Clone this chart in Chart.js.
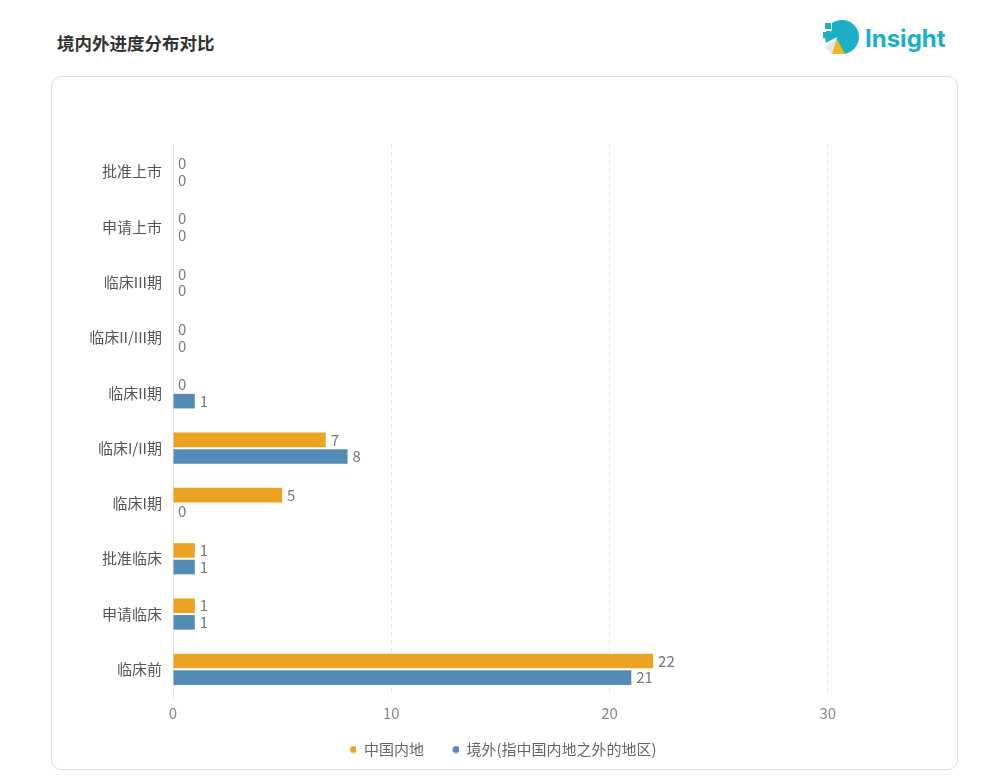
<!DOCTYPE html>
<html>
<head>
<meta charset="utf-8">
<script src="https://cdn.jsdelivr.net/npm/chart.js@4.4.0/dist/chart.umd.min.js"></script>
<style>
  html, body { margin: 0; padding: 0; background: #fff; }
  body { width: 1008px; height: 783px; position: relative; overflow: hidden;
         font-family: "Noto Sans CJK SC", "Noto Sans", sans-serif; }
  #title { position: absolute; left: 57px; top: 30px; font-size: 17.5px; font-weight: bold; color: #333; }
  #logo { position: absolute; left: 820px; top: 17px; }
  #card { position: absolute; left: 51px; top: 76px; width: 905px; height: 692px;
          border: 1px solid #dedede; border-radius: 10px; }
  #wrap { position: absolute; left: 0; top: 0; width: 905px; height: 692px; }
</style>
</head>
<body>
<div id="title">境内外进度分布对比</div>
<svg id="logo" width="135" height="42" viewBox="0 0 135 42">
  <circle cx="22" cy="20" r="17" fill="#1cb0c8"/>
  <rect x="3" y="3" width="9" height="11" fill="#fff"/>
  <rect x="5" y="6" width="6" height="6" fill="#1cb0c8"/>
  <rect x="3" y="15" width="7" height="6" fill="#1cb0c8"/>
  <path d="M2 28 L17 20 L12 38 L2 38 Z" fill="#fff"/>
  <path d="M5 30 L17 22 L12 37 Z" fill="#e4e4e4"/>
  <path d="M17 22 L25 37 L12 37 Z" fill="#f2b71f"/>
  <text x="45" y="30" font-family="Inter, 'Open Sans', sans-serif" font-weight="bold" font-size="24" fill="#1cb0c8">Insight</text>
</svg>
<div id="card"><div id="wrap"><canvas id="chart"></canvas></div></div>
<script>
var categories = ['批准上市', '申请上市', '临床III期', '临床II/III期', '临床II期', '临床I/II期', '临床I期', '批准临床', '申请临床', '临床前'];
var mainlandValues = [0, 0, 0, 0, 0, 7, 5, 1, 1, 22];
var overseasValues = [0, 0, 0, 0, 1, 8, 0, 1, 1, 21];
var seriesNames = ['中国内地', '境外(指中国内地之外的地区)'];
var xTicks = [0, 10, 20, 30];

var fontFamily = '"Noto Sans CJK SC", "Noto Sans", sans-serif';

// legend dot, drawn off-centre so the items get a wider gap between them
function legendDot(color) {
  var c = document.createElement('canvas');
  c.width = 22;
  c.height = 8;
  var g = c.getContext('2d');
  g.fillStyle = color;
  g.beginPath();
  g.arc(19, 4, 3.5, 0, Math.PI * 2);
  g.fill();
  return c;
}

// simple value labels at the end of each bar
var barLabels = {
  id: 'barLabels',
  afterDatasetsDraw: function(chart) {
    var ctx = chart.ctx;
    ctx.save();
    ctx.font = '15px ' + fontFamily;
    ctx.fillStyle = '#777';
    ctx.textAlign = 'left';
    ctx.textBaseline = 'middle';
    chart.data.datasets.forEach(function(ds, i) {
      var meta = chart.getDatasetMeta(i);
      meta.data.forEach(function(bar, j) {
        ctx.fillText(ds.data[j], bar.x + 5, bar.y);
      });
    });
    ctx.restore();
  }
};

new Chart(document.getElementById('chart'), {
  type: 'bar',
  data: {
    labels: categories,
    datasets: [
      { label: seriesNames[0], data: mainlandValues, backgroundColor: '#eba322', pointStyle: legendDot('#eba322') },
      { label: seriesNames[1], data: overseasValues, backgroundColor: '#538bb5', pointStyle: legendDot('#538bb5') }
    ]
  },
  options: {
    indexAxis: 'y',
    responsive: true,
    maintainAspectRatio: false,
    animation: false,
    categoryPercentage: 0.6,
    barPercentage: 0.88,
    layout: { padding: { top: 67, right: 18, bottom: 2, left: 0 } },
    scales: {
      x: {
        min: 0,
        max: 35.1,
        afterBuildTicks: function(scale) {
          scale.ticks = xTicks.map(function(v) { return { value: v }; });
        },
        grid: { color: '#e6e6e6', drawTicks: false },
        border: { display: false, dash: [4, 4] },
        ticks: { color: '#888', padding: 7, font: { size: 15, family: fontFamily } }
      },
      y: {
        grid: { display: false, drawTicks: false },
        border: { display: true, color: '#e2e2e2' },
        afterFit: function(scale) { scale.width = 121; },
        ticks: { color: '#555', padding: 11, font: { size: 15, family: fontFamily } }
      }
    },
    plugins: {
      legend: {
        position: 'bottom',
        labels: {
          usePointStyle: true,
          pointStyleWidth: 22,
          boxHeight: 8,
          padding: 13,
          color: '#666',
          font: { size: 15, family: fontFamily }
        }
      },
      tooltip: { enabled: false }
    }
  },
  plugins: [barLabels]
});
</script>
</body>
</html>
